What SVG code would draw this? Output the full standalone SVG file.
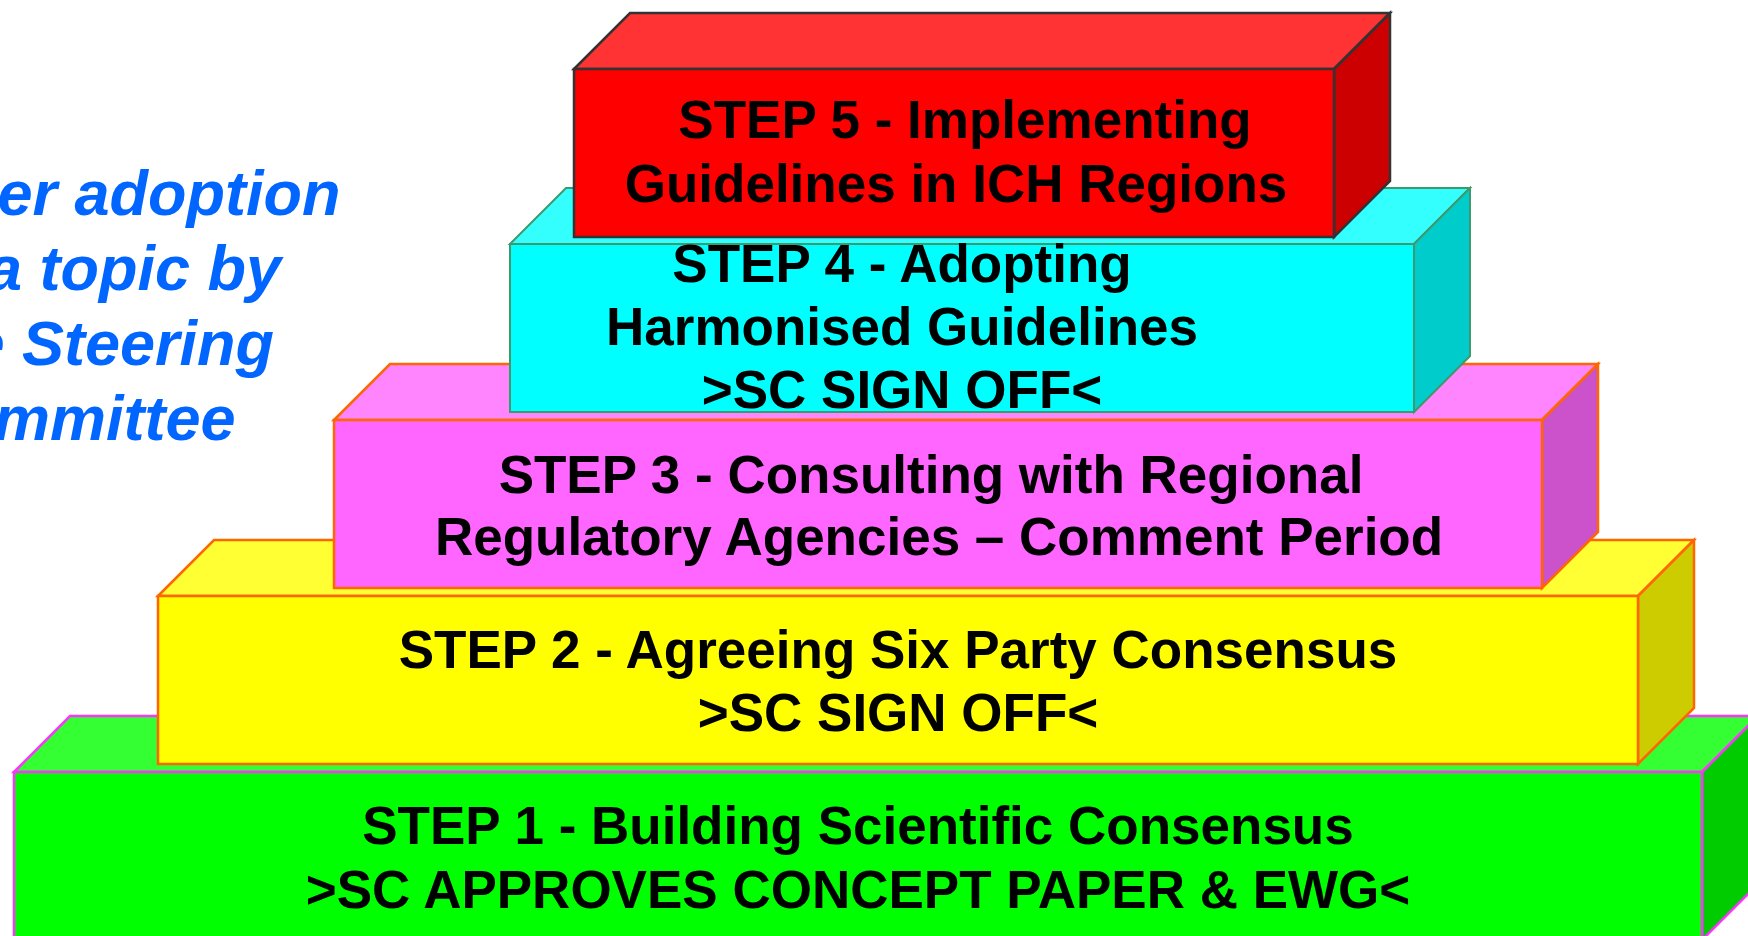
<svg xmlns="http://www.w3.org/2000/svg" width="1748" height="936" viewBox="0 0 1748 936">
  <style>
    .lbl { font-family: "Liberation Sans", Arial, sans-serif; font-weight: bold; font-size: 53px; fill: #000000; text-anchor: middle; }
    .note { font-family: "Liberation Sans", Arial, sans-serif; font-weight: bold; font-style: italic; font-size: 63px; fill: #0066ff; }
    .s1 { stroke: #ff33ff; stroke-width: 2.5; stroke-linejoin: miter; }
    .s2 { stroke: #ff6600; stroke-width: 2.5; stroke-linejoin: miter; }
    .s3 { stroke: #ff6600; stroke-width: 2.5; stroke-linejoin: miter; }
    .s4 { stroke: #3d9a6c; stroke-width: 2; stroke-linejoin: miter; }
    .s5 { stroke: #333333; stroke-width: 2.5; stroke-linejoin: miter; }
  </style>

  <rect width="1748" height="936" fill="#ffffff"/>

  <!-- caption on the left, partly running off the page -->
  <g id="caption">
    <text class="note" x="-90" y="215">After adoption</text>
    <text class="note" x="-90" y="290">of a topic by</text>
    <text class="note" x="-90" y="365">the Steering</text>
    <text class="note" x="-90" y="440">Committee</text>
  </g>

  <!-- step 1: bottom slab (front 14..1702, 772..940, depth 56) -->
  <g id="step1" class="s1">
    <polygon points="14,772 70,716 1758,716 1702,772" fill="#33ff33"/>
    <polygon points="1702,772 1758,716 1758,884 1702,940" fill="#00cc00"/>
    <rect x="14" y="772" width="1688" height="168" fill="#00ff00"/>
    <text class="lbl" stroke="none" x="858" y="844">STEP 1 - Building Scientific Consensus</text>
    <text class="lbl" stroke="none" x="858" y="908">&gt;SC APPROVES CONCEPT PAPER &amp; EWG&lt;</text>
  </g>

  <!-- step 2 -->
  <g id="step2" class="s2">
    <polygon points="158,596 214,540 1694,540 1638,596" fill="#ffff33"/>
    <polygon points="1638,596 1694,540 1694,708 1638,764" fill="#cccc00"/>
    <rect x="158" y="596" width="1480" height="168" fill="#ffff00"/>
    <text class="lbl" stroke="none" x="898" y="668">STEP 2 - Agreeing Six Party Consensus</text>
    <text class="lbl" stroke="none" x="898" y="731">&gt;SC SIGN OFF&lt;</text>
  </g>

  <!-- step 3 -->
  <g id="step3" class="s3">
    <polygon points="334,420 390,364 1598,364 1542,420" fill="#ff85ff"/>
    <polygon points="1542,420 1598,364 1598,532 1542,588" fill="#cc52cc"/>
    <rect x="334" y="420" width="1208" height="168" fill="#ff66ff"/>
    <text class="lbl" stroke="none" x="931" y="493">STEP 3 - Consulting with Regional</text>
    <text class="lbl" stroke="none" x="939" y="555">Regulatory Agencies – Comment Period</text>
  </g>

  <!-- step 4 -->
  <g id="step4" class="s4">
    <polygon points="510,244 566,188 1470,188 1414,244" fill="#33ffff"/>
    <polygon points="1414,244 1470,188 1470,356 1414,412" fill="#00cccc"/>
    <rect x="510" y="244" width="904" height="168" fill="#00ffff"/>
    <text class="lbl" stroke="none" x="902" y="282">STEP 4 - Adopting</text>
    <text class="lbl" stroke="none" x="902" y="345">Harmonised Guidelines</text>
    <text class="lbl" stroke="none" x="902" y="408">&gt;SC SIGN OFF&lt;</text>
  </g>

  <!-- step 5: top block -->
  <g id="step5" class="s5">
    <polygon points="574,69 630,13 1390,13 1334,69" fill="#ff3333"/>
    <polygon points="1334,69 1390,13 1390,181 1334,237" fill="#cc0000"/>
    <rect x="574" y="69" width="760" height="168" fill="#ff0000"/>
    <text class="lbl" stroke="none" x="965" y="138">STEP 5 - Implementing</text>
    <text class="lbl" stroke="none" x="956" y="202">Guidelines in ICH Regions</text>
  </g>
</svg>
